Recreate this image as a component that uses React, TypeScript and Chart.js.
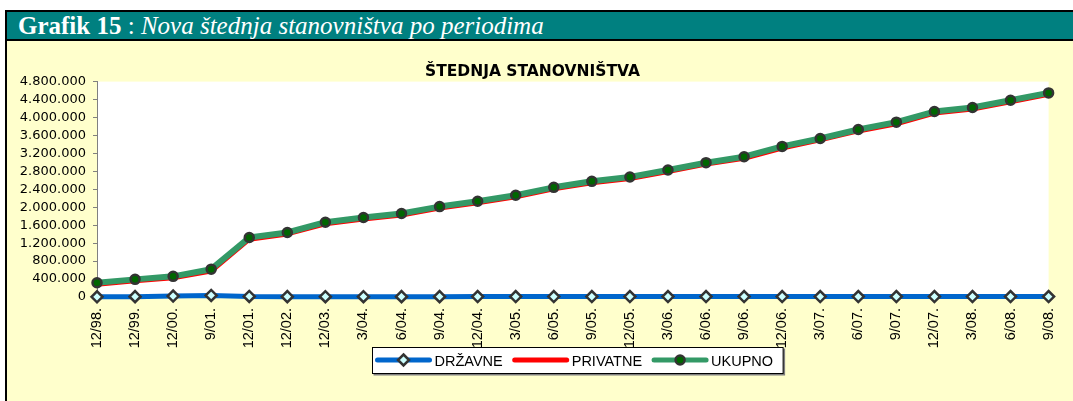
import React, { useEffect, useRef } from 'react';
import { Chart, registerables } from 'chart.js';

Chart.register(...registerables);

// ---- data ----
const categories = [
  '12/98.', '12/99.', '12/00.', '9/01.', '12/01.', '12/02.', '12/03.', '3/04.', '6/04.',
  '9/04.', '12/04.', '3/05.', '6/05.', '9/05.', '12/05.', '3/06.', '6/06.', '9/06.',
  '12/06.', '3/07.', '6/07.', '9/07.', '12/07.', '3/08.', '6/08.', '9/08.',
];

const drzavne = [
  5000, 8000, 20000, 35000, 12000, 8000, 7000, 7000, 8000,
  8000, 9000, 9000, 9000, 9000, 10000, 10000, 10000, 10000,
  10000, 10000, 10000, 10000, 10000, 10000, 10000, 10000,
];

const privatne = [
  275000, 350000, 415000, 565000, 1275000, 1395000, 1620000, 1725000, 1815000,
  1970000, 2090000, 2220000, 2400000, 2535000, 2630000, 2785000, 2950000, 3080000,
  3310000, 3490000, 3690000, 3850000, 4090000, 4180000, 4340000, 4505000,
];

const ukupno = [
  318000, 393000, 460000, 620000, 1327000, 1437000, 1667000, 1771000, 1860000,
  2015000, 2133000, 2267000, 2444000, 2578000, 2674000, 2830000, 2993000, 3126000,
  3356000, 3533000, 3733000, 3896000, 4133000, 4222000, 4385000, 4548000,
];

const seriesLabels = ['DRŽAVNE', 'PRIVATNE', 'UKUPNO'];
const yMin = 0;
const yMax = 4800000;
const yStep = 400000;
const chartTitle = 'ŠTEDNJA STANOVNIŠTVA';

function fmt(v: number): string {
  return String(Math.round(v)).replace(/\B(?=(\d{3})+(?!\d))/g, '.');
}

const plotBg = {
  id: 'plotBg',
  beforeDraw(chart: any) {
    const { ctx, chartArea: a } = chart;
    ctx.save();
    ctx.fillStyle = '#ffffff';
    ctx.fillRect(a.left, a.top, a.right - a.left, a.bottom - a.top);
    ctx.restore();
  },
};

const boxedLegend = {
  id: 'boxedLegend',
  afterDraw(chart: any) {
    const { ctx, chartArea: a } = chart;
    const ds = chart.data.datasets;
    ctx.save();
    ctx.font = '14.5px "Liberation Sans", Arial, sans-serif';
    const lineLen = 58, gapText = 2, gapItem = 9, padL = 2, padR = 10, h = 26;
    const widths = ds.map((d: any) => ctx.measureText(d.label).width);
    const total = padL + padR + ds.length * (lineLen + gapText) +
      widths.reduce((s: number, w: number) => s + w, 0) + gapItem * (ds.length - 1);
    const cx = (a.left + a.right) / 2 + 5;
    const left = Math.round(cx - total / 2) + 0.5;
    const top = Math.round(a.bottom + 50) + 0.5;
    ctx.fillStyle = '#7f7f7f';
    ctx.fillRect(left + 1, top + 1, total + 1, h + 1);
    ctx.fillStyle = '#ffffff';
    ctx.fillRect(left, top, total, h);
    ctx.strokeStyle = '#000000';
    ctx.lineWidth = 1;
    ctx.strokeRect(left, top, total, h);
    let x = left + padL;
    const y = top + h / 2 - 0.5;
    ds.forEach((d: any, i: number) => {
      ctx.strokeStyle = d.borderColor;
      ctx.lineWidth = 5;
      ctx.lineCap = 'round';
      ctx.beginPath();
      ctx.moveTo(x + 3, y);
      ctx.lineTo(x + lineLen - 3, y);
      ctx.stroke();
      const mx = x + lineLen / 2;
      if (d.pointRadius > 0) {
        const r = d.pointRadius;
        ctx.fillStyle = d.pointBackgroundColor;
        ctx.strokeStyle = d.pointBorderColor;
        ctx.lineWidth = d.pointBorderWidth;
        ctx.beginPath();
        if (d.pointStyle === 'rectRot') {
          ctx.moveTo(mx, y - r);
          ctx.lineTo(mx + r, y);
          ctx.lineTo(mx, y + r);
          ctx.lineTo(mx - r, y);
          ctx.closePath();
        } else {
          ctx.arc(mx, y, r, 0, Math.PI * 2);
        }
        ctx.fill();
        ctx.stroke();
      }
      x += lineLen + gapText;
      ctx.fillStyle = '#000000';
      ctx.textBaseline = 'middle';
      ctx.textAlign = 'left';
      ctx.fillText(d.label, x, y + 1.5);
      x += widths[i] + gapItem;
    });
    ctx.restore();
  },
};

function SavingsChart() {
  const ref = useRef<HTMLCanvasElement | null>(null);
  useEffect(() => {
    if (!ref.current) return;
    const chart = new Chart(ref.current, {
      type: 'line',
      data: {
        labels: categories,
        datasets: [
          {
            label: seriesLabels[0],
            data: drzavne,
            order: 0,
            borderColor: '#0066cc',
            backgroundColor: '#0066cc',
            borderWidth: 5,
            pointStyle: 'rectRot',
            pointRadius: 5.5,
            pointBackgroundColor: '#ccffff',
            pointBorderColor: '#333333',
            pointBorderWidth: 2.5,
            tension: 0,
            clip: false,
            borderCapStyle: 'round',
            borderJoinStyle: 'round',
          } as any,
          {
            label: seriesLabels[1],
            data: privatne,
            order: 2,
            borderColor: '#ff0000',
            backgroundColor: '#ff0000',
            borderWidth: 4,
            pointRadius: 0,
            tension: 0,
            clip: false,
            borderCapStyle: 'round',
            borderJoinStyle: 'round',
          } as any,
          {
            label: seriesLabels[2],
            data: ukupno,
            order: 1,
            borderColor: '#339966',
            backgroundColor: '#339966',
            borderWidth: 6,
            pointStyle: 'circle',
            pointRadius: 4.5,
            pointBackgroundColor: '#006600',
            pointBorderColor: '#333333',
            pointBorderWidth: 2.5,
            tension: 0,
            clip: false,
            borderCapStyle: 'round',
            borderJoinStyle: 'round',
          } as any,
        ],
      },
      options: {
        animation: false,
        responsive: true,
        maintainAspectRatio: false,
        events: [],
        layout: { padding: { left: 0, right: 15, top: 0, bottom: 0 } },
        plugins: {
          legend: { display: false },
          tooltip: { enabled: false },
          title: {
            display: true,
            text: chartTitle,
            color: '#000000',
            font: { family: '"DejaVu Sans", Arial, sans-serif', size: 15.5, weight: 'bold' },
            padding: { top: 22, bottom: 0 },
          },
        },
        scales: {
          x: {
            type: 'category',
            offset: false,
            grid: { drawOnChartArea: false, drawTicks: true, tickLength: 4, color: '#808080' },
            border: { color: '#808080', width: 1 },
            ticks: {
              autoSkip: false,
              maxRotation: 90,
              minRotation: 90,
              padding: 7,
              color: '#000000',
              font: { family: '"Liberation Sans", Arial, sans-serif', size: 14.5 },
            },
            afterFit: (s: any) => { s.height = 104; },
          },
          y: {
            min: yMin,
            max: yMax,
            grid: { drawOnChartArea: false, drawTicks: true, tickLength: 4, color: '#808080' },
            border: { color: '#808080', width: 1 },
            ticks: {
              autoSkip: false,
              stepSize: yStep,
              padding: 7,
              color: '#000000',
              font: { family: '"DejaVu Sans", Arial, sans-serif', size: 13 },
              callback: (v: any) => fmt(Number(v)),
            },
            afterFit: (s: any) => { s.width = 90; },
          },
        },
      },
      plugins: [plotBg, boxedLegend],
    } as any);
    return () => chart.destroy();
  }, []);
  return (
    <div style={{ position: 'relative', width: 1066, height: 360 }}>
      <canvas ref={ref} />
    </div>
  );
}

export default function App() {
  return (
    <div
      style={{
        position: 'absolute',
        left: 5,
        top: 10,
        width: 1068,
        height: 391,
        boxSizing: 'border-box',
        borderTop: '2px solid #000',
        borderLeft: '2px solid #000',
        background: '#ffffcc',
        overflow: 'hidden',
      }}
    >
      <div
        style={{
          height: 27,
          background: '#008080',
          borderBottom: '2px solid #000',
          color: '#ffffff',
          fontFamily: '"Liberation Serif", "Times New Roman", serif',
          fontSize: 25,
          lineHeight: '27px',
          paddingLeft: 11,
          whiteSpace: 'nowrap',
          overflow: 'hidden',
        }}
      >
        <b>Grafik 15</b> : <i>Nova štednja stanovništva po periodima</i>
      </div>
      <SavingsChart />
    </div>
  );
}
